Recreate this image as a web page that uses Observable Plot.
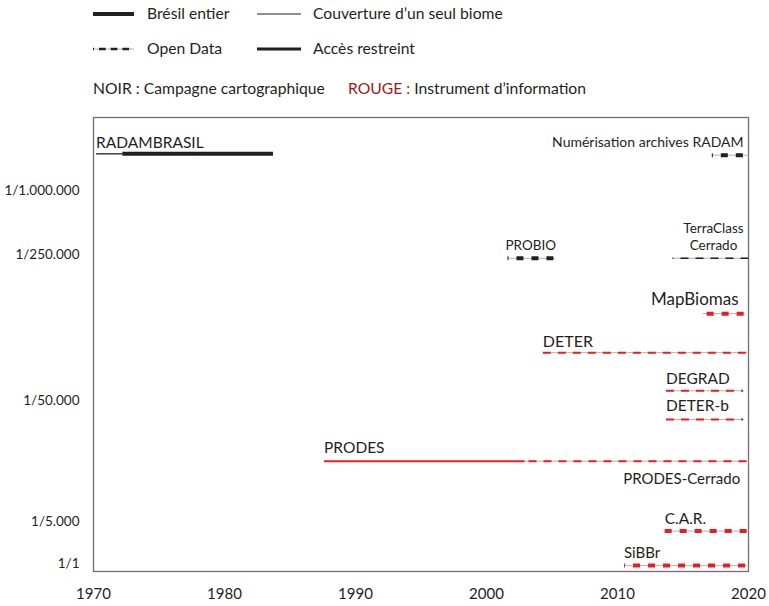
<!DOCTYPE html>
<html><head><meta charset="utf-8">
<script src="https://cdn.jsdelivr.net/npm/d3@7"></script>
<script src="https://cdn.jsdelivr.net/npm/@observablehq/plot@0.6"></script>
<style>
body{margin:0;background:#fff;font-family:Lato,sans-serif;color:#231f20}
#legend{position:relative;width:769px;height:100px}
.it{position:absolute;font-size:15.7px;line-height:1;white-space:nowrap}
.sw{position:absolute;overflow:visible}
</style></head><body>
<div id="legend"></div>
<div id="chart"></div>
<script>
// ---- data ----
const programmes = ["RADAMBRASIL","RADAMBRASIL","Numérisation archives RADAM","PROBIO","TerraClass Cerrado","MapBiomas","DETER","DEGRAD","DETER-b","PRODES","PRODES","C.A.R.","SiBBr"];
const debut = [1970.2,1972.2,2017.2,2001.6,2014.2,2016.5,2004.3,2013.7,2013.7,1987.6,2002.9,2013.6,2010.5];
const fin   = [1972.2,1983.7,2020,2005.2,2020,2019.7,2019.9,2019.6,2019.6,2002.9,2019.9,2019.9,2019.9];
const niveau = [92,92,91.7,69,69,56.8,48.2,39.8,33.5,24.3,24.3,8.9,1.3];
const couverture = ["biome","Brésil","Brésil","Brésil","biome","Brésil","biome","biome","biome","biome","biome","Brésil","Brésil"];
const acces = ["restreint","restreint","open","open","open","open","open","open","open","restreint","open","open","open"];
const nature = ["campagne","campagne","campagne","campagne","campagne","instrument","instrument","instrument","instrument","instrument","instrument","instrument","instrument"];

const labelTexts = ["RADAMBRASIL","Numérisation archives RADAM","PROBIO","TerraClass\nCerrado","MapBiomas","DETER","DEGRAD","DETER-b","PRODES","PRODES-Cerrado","C.A.R.","SiBBr"];
const labelRow = [0,2,3,4,5,6,7,8,9,10,11,12];

const echelleNiveaux = [83.9,69.8,37.6,11,1.8];
const echelleLabels = ["1/1.000.000","1/250.000","1/50.000","1/5.000","1/1"];
const annees = [1970,1980,1990,2000,2010,2020];

const legendLabels = ["Brésil entier","Couverture d’un seul biome","Open Data","Accès restreint"];
const noteNoir = "NOIR : Campagne cartographique";
const noteRouge = ["ROUGE :", " Instrument d’information"];

// ---- styles ----
const RED = "#ed1c24", BLACK = "#231f20", GREY = "#b3b3b3";
const rows = programmes.map((p,i)=>({programme:p, debut:debut[i], fin:fin[i], niveau:niveau[i], couverture:couverture[i], acces:acces[i], nature:nature[i]}));
const colorOf = d => d.nature === "instrument" ? RED : BLACK;
const widthOf = d => d.couverture === "Brésil" ? 4 : (d.nature === "instrument" ? 2 : 1.3);
const dashOf = d => d.couverture === "Brésil" ? "7,8" : "8,7";
const dashOffset = {"Numérisation archives RADAM":6, "PROBIO":6, "SiBBr":6, "TerraClass Cerrado":7, "MapBiomas":11, "PRODES":11};

const labelStyle = {
  "RADAMBRASIL": {at:"debut", anchor:"start", size:15.5, dx:0, dy:-6},
  "Numérisation archives RADAM": {at:"fin", anchor:"end", size:14, dx:-5, dy:-8},
  "PROBIO": {at:"debut", anchor:"start", size:13.5, dx:-2, dy:-8},
  "TerraClass\nCerrado": {at:"fin", anchor:"middle", size:13.5, dx:-35, dy:-8},
  "MapBiomas": {at:"fin", anchor:"end", size:17, dx:-6, dy:-9},
  "DETER": {at:"debut", anchor:"start", size:16, dx:0, dy:-6},
  "DEGRAD": {at:"debut", anchor:"start", size:15.5, dx:0, dy:-7},
  "DETER-b": {at:"debut", anchor:"start", size:15.5, dx:0, dy:-8},
  "PRODES": {at:"debut", anchor:"start", size:15.5, dx:0, dy:-8.5},
  "PRODES-Cerrado": {at:"fin", anchor:"end", size:15, dx:-7, dy:22.5},
  "C.A.R.": {at:"debut", anchor:"start", size:15.5, dx:0, dy:-7},
  "SiBBr": {at:"debut", anchor:"start", size:15, dx:0, dy:-7.5}
};

// ---- legend ----
const leg = document.getElementById("legend");
function addText(txt, x, cy, color){
  const d = document.createElement("div");
  d.className = "it"; d.textContent = txt;
  d.style.left = x+"px"; d.style.top = (cy - 0.527*15.7)+"px";
  if (color) d.style.color = color;
  leg.appendChild(d); return d;
}
function addSwatch(x, cy, kind){
  const ns = "http://www.w3.org/2000/svg";
  const s = document.createElementNS(ns,"svg");
  s.setAttribute("class","sw"); s.setAttribute("width",44); s.setAttribute("height",10);
  s.style.left = x+"px"; s.style.top = (cy-5)+"px";
  const line = (attrs)=>{const l=document.createElementNS(ns,"line"); for(const k in attrs) l.setAttribute(k,attrs[k]); s.appendChild(l);};
  if (kind==="bresil") line({x1:0,x2:41,y1:5,y2:5,stroke:BLACK,"stroke-width":4});
  if (kind==="biome") line({x1:0,x2:44,y1:5,y2:5,stroke:BLACK,"stroke-width":1.2});
  if (kind==="open"){ line({x1:0,x2:41,y1:5,y2:5,stroke:GREY,"stroke-width":1}); line({x1:0,x2:41,y1:5,y2:5,stroke:BLACK,"stroke-width":2.6,"stroke-dasharray":"6.7,5","stroke-dashoffset":5.7}); }
  if (kind==="restreint") line({x1:0,x2:44,y1:5,y2:5,stroke:BLACK,"stroke-width":2.8});
  leg.appendChild(s);
}
addSwatch(93,14,"bresil"); addText(legendLabels[0],147,14);
addSwatch(257,14,"biome"); addText(legendLabels[1],313,14);
addSwatch(93,49,"open"); addText(legendLabels[2],147,49);
addSwatch(257,49,"restreint"); addText(legendLabels[3],313,49);
addText(noteNoir,93,89.5);
const r = addText(noteRouge[0],348,89.5,"#9b1c20");
const s2 = document.createElement("span"); s2.textContent = noteRouge[1]; s2.style.color = BLACK; r.appendChild(s2);

// ---- chart ----
const openRows = rows.filter(d=>d.acces==="open");
const solidRows = rows.filter(d=>d.acces==="restreint");
const labels = labelTexts.map((t,i)=>({text:t, ...rows[labelRow[i]]}));
const tickLabel = new Map(echelleNiveaux.map((v,i)=>[v, echelleLabels[i]]));

const marks = [
  Plot.frame({stroke:"#6d6e71", strokeWidth:1.3}),
  Plot.axisX({ticks:annees, tickFormat:d=>String(d), tickSize:0, tickPadding:17, fontSize:15, fill:BLACK, label:null}),
  Plot.axisY({ticks:echelleNiveaux, tickFormat:d=>tickLabel.get(d), tickSize:0, tickPadding:14, fontSize:13.5, fill:BLACK, label:null}),
  Plot.link(openRows, {x1:"debut", x2:"fin", y1:"niveau", y2:"niveau", stroke:GREY, strokeWidth:1}),
  Plot.link(solidRows, {x1:"debut", x2:"fin", y1:"niveau", y2:"niveau", stroke:colorOf, strokeWidth:widthOf}),
  ...openRows.map(d => Plot.link([d], {x1:"debut", x2:"fin", y1:"niveau", y2:"niveau", stroke:colorOf(d), strokeWidth:widthOf(d), strokeDasharray:dashOf(d), strokeDashoffset:dashOffset[d.programme] ?? 0})),
  ...labels.map(l => {
    const st = labelStyle[l.text];
    return Plot.text([l], {x:st.at, y:"niveau", text:"text", textAnchor:st.anchor, lineAnchor:"bottom", lineHeight:1.25, fontSize:st.size, dx:st.dx, dy:st.dy, fill:BLACK});
  })
];

const plot = Plot.plot({
  width:769, height:506,
  marginLeft:93, marginRight:21, marginTop:17, marginBottom:35,
  x:{domain:[1970,2020], label:null},
  y:{domain:[0,100], label:null},
  axis:null,
  style:{fontFamily:"Lato, sans-serif", color:BLACK, background:"#fff", overflow:"visible"},
  marks
});
document.getElementById("chart").appendChild(plot);
</script>
</body></html>
